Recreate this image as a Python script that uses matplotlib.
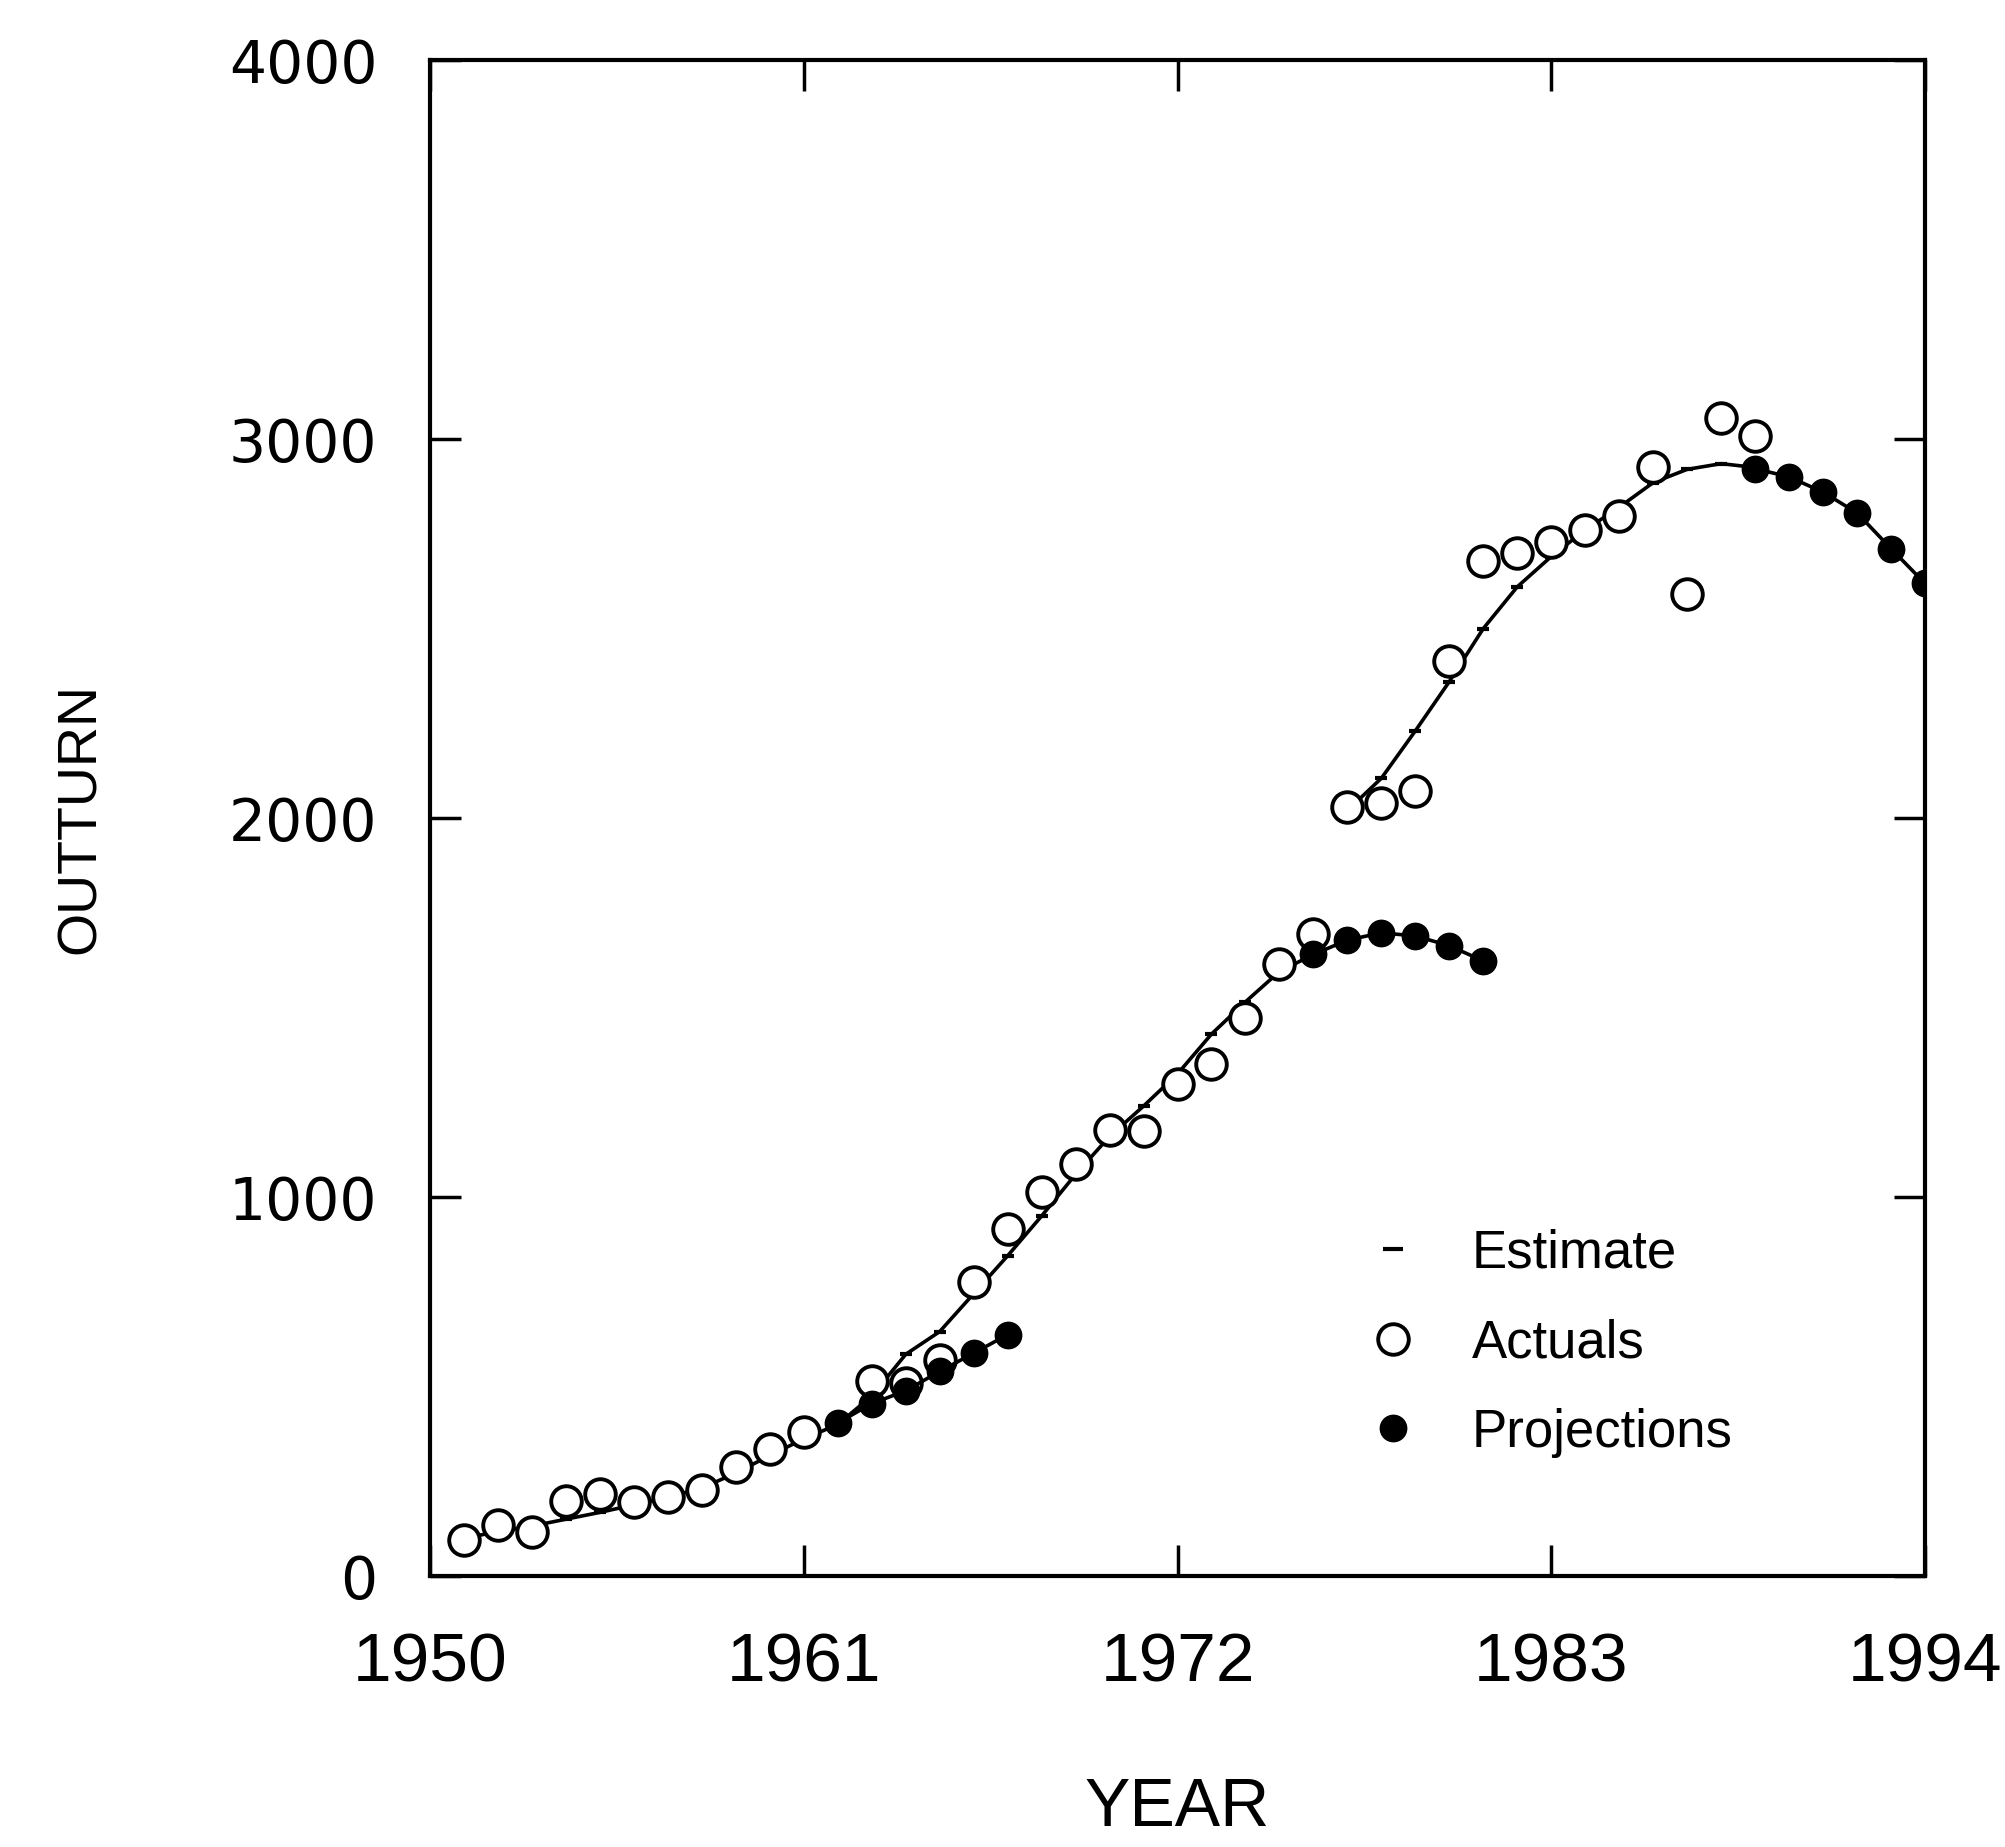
import matplotlib
matplotlib.use('Agg')
import matplotlib.pyplot as plt
from matplotlib.lines import Line2D

plt.rcParams['font.family'] = ['Liberation Sans', 'DejaVu Sans']

# fitted estimate, lower run and upper run
est_years_a = list(range(1951, 1977))
est_vals_a = [100, 117, 132, 150, 168, 188, 208, 232, 272, 318, 362, 400, 475,
              585, 645, 745, 845, 950, 1060, 1160, 1240, 1325, 1430, 1515, 1595, 1640]
est_years_b = list(range(1977, 1990))
est_vals_b = [2020, 2105, 2230, 2360, 2500, 2610, 2690, 2760, 2820, 2885, 2920, 2935, 2925]

# actual outturn
act_years = [1951, 1952, 1953, 1954, 1955, 1956, 1957, 1958, 1959, 1960, 1961, 1963,
             1964, 1965, 1966, 1967, 1968, 1969, 1970, 1971, 1972, 1973, 1974, 1975,
             1976, 1977, 1978, 1979, 1980, 1981, 1982, 1983, 1984, 1985, 1986, 1987,
             1988, 1989]
act_vals = [95, 135, 115, 198, 217, 196, 209, 227, 289, 335, 381, 515,
            510, 570, 775, 916, 1012, 1087, 1177, 1175, 1298, 1351, 1473, 1614,
            1695, 2030, 2040, 2072, 2414, 2678, 2698, 2728, 2760, 2796, 2925, 2590,
            3055, 3008]

# projections, three runs
proj_years_1 = [1962, 1963, 1964, 1965, 1966, 1967]
proj_vals_1 = [404, 455, 489, 540, 588, 637]
proj_years_2 = [1976, 1977, 1978, 1979, 1980, 1981]
proj_vals_2 = [1640, 1678, 1697, 1689, 1663, 1623]
proj_years_3 = [1989, 1990, 1991, 1992, 1993, 1994]
proj_vals_3 = [2922, 2900, 2860, 2805, 2711, 2619]

x_ticks = [1950, 1961, 1972, 1983, 1994]
y_ticks = [0, 1000, 2000, 3000, 4000]

fig = plt.figure(figsize=(20.06, 18.47), dpi=100)
ax = fig.add_axes([0.2144, 0.1467, 0.7452, 0.8208])

for yrs, vals in [(est_years_a, est_vals_a), (est_years_b, est_vals_b)]:
    ax.plot(yrs, vals, color='black', lw=2.6, marker='_', ms=9, mew=3, zorder=2)

ax.plot(act_years, act_vals, ls='none', marker='o', ms=22, mfc='white',
        mec='black', mew=2.8, zorder=3)

for yrs, vals in [(proj_years_1, proj_vals_1), (proj_years_2, proj_vals_2),
                  (proj_years_3, proj_vals_3)]:
    ax.plot(yrs, vals, color='black', lw=2.6, marker='o', ms=19, mfc='black',
            mec='black', zorder=4)

ax.set_xlim(1950, 1994)
ax.set_ylim(0, 4000)
ax.set_xticks(x_ticks)
ax.set_yticks(y_ticks)
ax.tick_params(direction='in', length=22, width=2.5, top=True, right=True)
ax.tick_params(axis='x', pad=40, labelsize=50)
ax.tick_params(axis='y', pad=38)
for lab in ax.get_yticklabels():
    lab.set_fontfamily('DejaVu Sans')
    lab.set_fontsize(42)
for sp in ax.spines.values():
    sp.set_linewidth(3)

ax.set_xlabel('YEAR', fontsize=49, labelpad=58)
ax.set_ylabel('OUTTURN', fontsize=40, labelpad=88)

handles = [
    Line2D([], [], ls='none', marker='_', ms=14, mew=3, color='black'),
    Line2D([], [], ls='none', marker='o', ms=22, mfc='white', mec='black', mew=2.8),
    Line2D([], [], ls='none', marker='o', ms=19, mfc='black', mec='black'),
]
ax.legend(handles, ['Estimate', 'Actuals', 'Projections'], loc='center left',
          bbox_to_anchor=(1340 / 2006, 1 - 1343 / 1847), bbox_transform=fig.transFigure,
          frameon=False, fontsize=38, handlelength=1.0, handletextpad=1.0,
          labelspacing=0.75, borderpad=0)

fig.savefig('out.png', dpi=100)
